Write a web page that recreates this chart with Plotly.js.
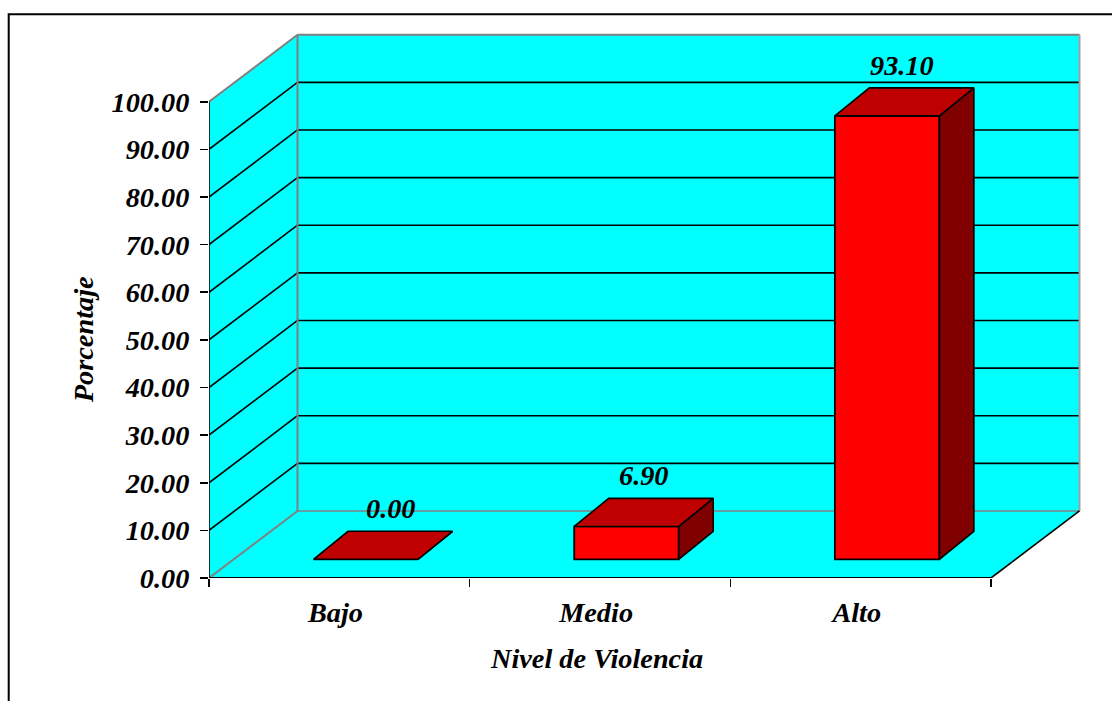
<!DOCTYPE html>
<html><head><meta charset="utf-8">
<script src="https://cdn.plot.ly/plotly-3.0.1.min.js"></script>
<style>html,body{margin:0;padding:0;background:#fff;overflow:hidden}#c{width:1112px;height:701px}</style>
</head><body><div id="c"></div>
<script>
// Data
var categories = ['Bajo', 'Medio', 'Alto'];
var values = [0.00, 6.90, 93.10];
var valueLabels = ['0.00', '6.90', '93.10'];
var yTickVals = [0, 10, 20, 30, 40, 50, 60, 70, 80, 90, 100];
var yTickText = ['0.00','10.00','20.00','30.00','40.00','50.00','60.00','70.00','80.00','90.00','100.00'];
var xTitle = 'Nivel de Violencia';
var yTitle = 'Porcentaje';

// Oblique-projection constants, in axis units
var W = 1112, H = 701, ML = 209, MR = 30, MT = 32, MB = 123.3;
var pxX = 260.67, pxY = 4.76;
var plotW = W - ML - MR, plotH = H - MT - MB;
var wallDX = 88.5 / pxX, wallDY = 67 / pxY;
var barW = 104.5 / pxX, barOffX = 0.1015, barOffY = 18.7 / pxY;
var barDX = 34.5 / pxX, barDY = 28 / pxY;
var labelNudgeX = [25.5, 18, 14.5];
var labelTickShift = -0.015;
var FONT = '"Liberation Serif", "Times New Roman", serif';
var CYAN = '#00FFFF', RED = '#FF0000', TOP = '#BF0000', SIDE = '#800000', GREY = '#808080';
var textFont = { family: FONT, size: 28.3, color: '#000', weight: 'bold', style: 'italic' };

function poly(pts) {
  return 'M' + pts.map(function (p) { return p[0] + ',' + p[1]; }).join('L') + 'Z';
}
function seg(a, b, color, width) {
  return { type: 'line', xref: 'x', yref: 'y', layer: 'below', x0: a[0], y0: a[1], x1: b[0], y1: b[1],
    line: { color: color, width: width } };
}
function area(pts) {
  return { type: 'path', xref: 'x', yref: 'y', layer: 'below', path: poly(pts), fillcolor: CYAN, line: { width: 0 } };
}

var yMax = 100, xMax = categories.length;
var shapes = [
  area([[0, 0], [wallDX, wallDY], [wallDX, yMax + wallDY], [0, yMax]]),
  area([[wallDX, wallDY], [xMax + wallDX, wallDY], [xMax + wallDX, yMax + wallDY], [wallDX, yMax + wallDY]]),
  area([[0, 0], [xMax, 0], [xMax + wallDX, wallDY], [wallDX, wallDY]])
];
yTickVals.forEach(function (v) {
  if (v === 0 || v === yMax) return;
  shapes.push(seg([0, v], [wallDX, v + wallDY], '#000', 1.6));
  shapes.push(seg([wallDX, v + wallDY], [xMax + wallDX, v + wallDY], '#000', 1.6));
});
shapes.push(seg([0, yMax], [wallDX, yMax + wallDY], GREY, 2));
shapes.push(seg([wallDX, yMax + wallDY], [xMax + wallDX, yMax + wallDY], GREY, 2));
shapes.push(seg([wallDX, wallDY], [wallDX, yMax + wallDY], GREY, 2));
shapes.push(seg([xMax + wallDX, wallDY], [xMax + wallDX, yMax + wallDY], '#A0A0A0', 2));
shapes.push(seg([0, 0], [wallDX, wallDY], GREY, 2));
shapes.push(seg([wallDX, wallDY], [xMax + wallDX, wallDY], GREY, 1.6));
shapes.push(seg([xMax, 0], [xMax + wallDX, wallDY], '#000', 1.6));
shapes.push(seg([0, 0], [0, yMax], '#000', 1.6));
shapes.push(seg([0, 0], [xMax, 0], '#000', 2.2));
// Chart-area frame: left and top edges only, running off the page to the right
shapes.push({ type: 'path', xref: 'paper', yref: 'paper', layer: 'below',
  path: 'M' + (8.7 - ML) / plotW + ',' + (1 - (720 - MT) / plotH) +
        'L' + (8.7 - ML) / plotW + ',' + (1 - (14.3 - MT) / plotH) +
        'L' + (1130 - ML) / plotW + ',' + (1 - (14.3 - MT) / plotH),
  line: { color: '#000', width: 2 } });

var traces = [{
  type: 'bar',
  x: categories.map(function (c, i) { return i + 0.5 + barOffX; }),
  y: values,
  base: values.map(function () { return barOffY; }),
  width: barW,
  marker: { color: RED, line: { color: '#000', width: 1.8 } },
  hoverinfo: 'skip', showlegend: false
}];
values.forEach(function (v, i) {
  var xl = i + 0.5 + barOffX - barW / 2, xr = xl + barW, y0 = barOffY, y1 = barOffY + v;
  traces.push({ type: 'scatter', mode: 'lines', fill: 'toself', fillcolor: SIDE,
    x: [xr, xr + barDX, xr + barDX, xr, xr], y: [y0, y0 + barDY, y1 + barDY, y1, y0],
    line: { color: '#000', width: 1.6 }, hoverinfo: 'skip', showlegend: false });
  traces.push({ type: 'scatter', mode: 'lines', fill: 'toself', fillcolor: TOP,
    x: [xl, xr, xr + barDX, xl + barDX, xl], y: [y1, y1, y1 + barDY, y1 + barDY, y1],
    line: { color: '#000', width: 1.6 }, hoverinfo: 'skip', showlegend: false });
});

var annotations = values.map(function (v, i) {
  return { xref: 'x', yref: 'y', x: i + 0.5 + barOffX, y: v + barOffY + barDY, text: valueLabels[i],
    showarrow: false, xanchor: 'center', yanchor: 'middle', xshift: labelNudgeX[i], yshift: 22.5,
    font: textFont };
});
annotations.push({ xref: 'paper', yref: 'paper', x: (596 - ML) / plotW, y: 1 - (658 - MT) / plotH, text: xTitle,
  showarrow: false, xanchor: 'center', yanchor: 'middle', font: textFont });
annotations.push({ xref: 'paper', yref: 'paper', x: (83 - ML) / plotW, y: 1 - (340 - MT) / plotH, text: yTitle, textangle: -90,
  showarrow: false, xanchor: 'center', yanchor: 'middle', font: textFont });

var layout = {
  width: W, height: H, margin: { l: ML, r: MR, t: MT, b: MB, pad: 0 },
  paper_bgcolor: '#fff', plot_bgcolor: 'rgba(0,0,0,0)', showlegend: false, hovermode: false, bargap: 0,
  xaxis: { range: [0, plotW / pxX], showgrid: false, zeroline: false, showline: false, fixedrange: true,
    tickmode: 'array', tickvals: categories.map(function (c, i) { return i + 0.5 + labelTickShift; }), ticktext: categories,
    ticks: '', ticklabelstandoff: 15, tickfont: textFont,
    minor: { tickmode: 'array', tickvals: [0, 1, 2, 3], ticks: 'outside', ticklen: 8, tickwidth: 1.6, tickcolor: '#000', showgrid: false } },
  yaxis: { range: [0, plotH / pxY], showgrid: false, zeroline: false, showline: false, fixedrange: true,
    tickmode: 'array', tickvals: yTickVals, ticktext: yTickText, ticks: 'outside', ticklen: 8, tickwidth: 1.6,
    tickcolor: '#000', ticklabelstandoff: 5, tickfont: textFont },
  shapes: shapes, annotations: annotations
};
Plotly.newPlot('c', traces, layout, { displayModeBar: false, staticPlot: true });
</script></body></html>
